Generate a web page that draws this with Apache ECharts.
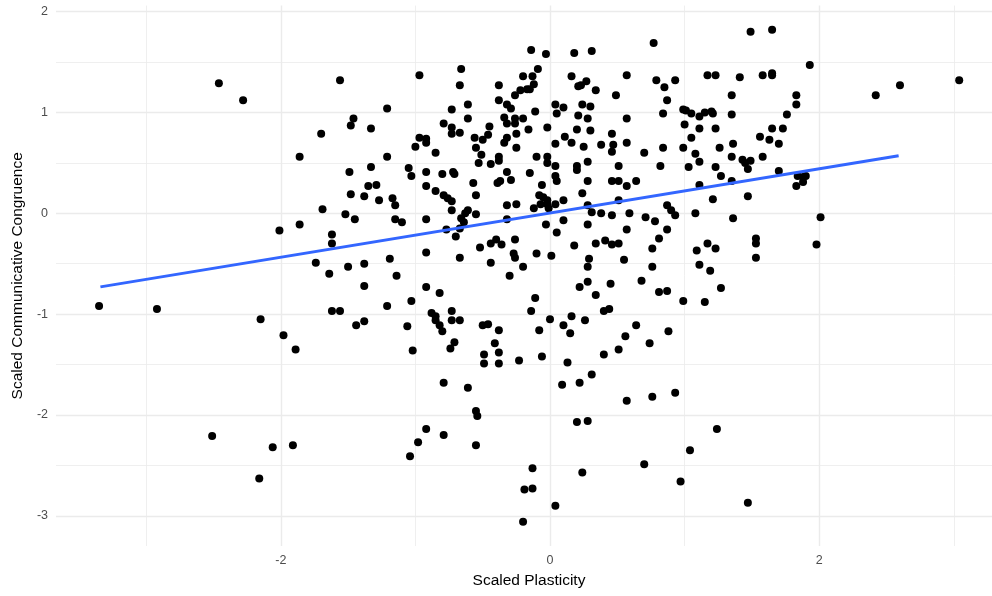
<!DOCTYPE html>
<html>
<head>
<meta charset="utf-8">
<script src="https://cdn.jsdelivr.net/npm/echarts@6/dist/echarts.min.js"></script>
<style>
  html, body { margin: 0; padding: 0; background: #ffffff; }
  #chart { width: 992px; height: 596px; }
</style>
</head>
<body>
<div id="chart"></div>
<script>
// Each participant: [scaled plasticity, scaled communicative congruence]
const observations = [
  [-2.46,1.29],[-2.28,1.12],[-1.86,0.56],[-2.01,-0.17],[-1.86,-0.11],
  [-1.56,1.32],[-0.97,1.37],[-1.21,1.04],[-1.46,0.94],[-1.48,0.87],[-1.70,0.79],[-1.33,0.84],[-0.97,0.75],
  [-1.00,0.66],[-0.92,0.74],[-0.92,0.70],[-1.21,0.56],[-1.49,0.41],[-1.33,0.46],[-1.05,0.45],[-1.03,0.37],
  [-0.92,0.41],[-0.92,0.27],[-1.35,0.27],[-1.29,0.28],[-1.48,0.19],[-1.38,0.17],[-1.27,0.13],[-1.17,0.15],
  [-1.15,0.08],[-1.69,0.04],[-1.52,-0.01],[-1.45,-0.06],[-1.15,-0.06],[-1.10,-0.09],[-0.92,-0.06],
  [-1.62,-0.21],[-1.62,-0.30],[-0.92,-0.39],[-1.74,-0.49],[-1.50,-0.53],[-1.38,-0.50],[-1.19,-0.45],
  [-1.64,-0.60],[-1.38,-0.72],[-1.14,-0.62],[-0.92,-0.73],[-1.62,-0.97],[-1.56,-0.97],[-1.21,-0.92],
  [-1.03,-0.87],[-1.44,-1.11],[-1.38,-1.07],[-1.06,-1.12],[-1.89,-1.35],[-1.02,-1.36],
  [-0.92,-2.14],[-0.98,-2.27],[-1.04,-2.41],[-1.91,-2.30],
  [-3.35,-0.92],[-2.92,-0.95],[-2.15,-1.05],[-1.98,-1.21],[-2.51,-2.21],[-2.06,-2.32],[-2.16,-2.63],
  [-0.14,1.62],[-0.03,1.58],[-0.66,1.43],[-0.09,1.43],[-0.67,1.27],[-0.38,1.27],[-0.20,1.36],[-0.13,1.36],
  [-0.12,1.28],[-0.22,1.22],[-0.17,1.23],[-0.15,1.23],[-0.26,1.17],[-0.38,1.12],[-0.32,1.08],[-0.29,1.04],
  [-0.61,1.08],[-0.73,1.03],[-0.11,1.01],[0.04,1.08],[0.05,0.99],[-0.61,0.94],[-0.34,0.95],[-0.26,0.94],
  [-0.20,0.94],[-0.79,0.89],[-0.73,0.85],[-0.73,0.79],[-0.67,0.80],[-0.45,0.86],[-0.32,0.89],[-0.26,0.89],
  [-0.16,0.83],[-0.02,0.85],[-0.56,0.75],[-0.50,0.73],[-0.46,0.78],[-0.32,0.75],[-0.34,0.70],[-0.25,0.79],
  [-0.25,0.65],[-0.55,0.65],[-0.85,0.60],[-0.51,0.58],[-0.38,0.56],[-0.38,0.52],[-0.53,0.50],[-0.44,0.49],
  [-0.10,0.56],[-0.02,0.56],[-0.02,0.50],[0.04,0.69],[-0.80,0.39],[-0.72,0.41],[-0.71,0.39],[-0.32,0.41],
  [-0.15,0.40],[0.04,0.47],[0.04,0.37],[-0.85,0.22],[-0.57,0.30],[-0.39,0.30],[-0.37,0.32],[-0.29,0.33],
  [-0.06,0.28],[-0.79,0.18],[-0.76,0.15],[-0.73,0.12],[-0.55,0.18],[-0.08,0.18],[-0.05,0.16],[-0.02,0.13],
  [-0.32,0.08],[-0.25,0.09],[-0.12,0.05],[-0.07,0.09],[-0.02,0.09],[-0.01,0.05],[0.04,0.09],[-0.73,0.03],
  [-0.61,0.03],[-0.63,0.00],[-0.55,-0.01],[-0.66,-0.05],[-0.64,-0.09],[-0.32,-0.06],[-0.77,-0.16],
  [-0.67,-0.15],[-0.70,-0.23],[-0.03,-0.11],[0.05,-0.19],[-0.67,-0.44],[-0.52,-0.34],[-0.44,-0.30],
  [-0.40,-0.26],[-0.36,-0.31],[-0.26,-0.26],[-0.44,-0.49],[-0.27,-0.40],[-0.26,-0.44],[-0.20,-0.53],
  [-0.10,-0.40],[0.01,-0.42],
  [-0.82,-0.79],[-0.30,-0.62],[-0.11,-0.84],[-0.14,-0.97],[0.00,-1.05],[-0.88,-0.99],[-0.85,-1.02],
  [-0.85,-1.06],[-0.82,-1.11],[-0.80,-1.17],[-0.73,-0.97],[-0.73,-1.06],[-0.67,-1.06],[-0.50,-1.11],
  [-0.46,-1.10],[-0.38,-1.16],[-0.71,-1.28],[-0.74,-1.34],[-0.41,-1.29],[-0.38,-1.38],[-0.49,-1.40],
  [-0.49,-1.49],[-0.38,-1.49],[-0.23,-1.46],[-0.08,-1.16],[-0.06,-1.42],[-0.79,-1.68],[-0.61,-1.73],
  [-0.55,-1.96],[-0.54,-2.01],[-0.79,-2.20],[-0.55,-2.30],[-0.13,-2.53],[-0.19,-2.74],[-0.13,-2.73],
  [0.04,-2.90],[-0.20,-3.06],
  [0.77,1.69],[0.18,1.59],[0.31,1.61],[0.16,1.36],[0.57,1.37],[0.79,1.32],[0.93,1.32],[0.27,1.31],
  [0.21,1.26],[0.23,1.27],[0.34,1.22],[0.85,1.25],[0.49,1.17],[0.87,1.12],[0.10,1.05],[0.24,1.08],
  [0.30,1.06],[0.99,1.03],[1.01,1.02],[0.21,0.97],[0.28,0.94],[0.57,0.94],[0.84,0.99],[1.00,0.88],
  [0.20,0.83],[0.30,0.82],[0.11,0.76],[0.16,0.70],[0.25,0.66],[0.46,0.79],[0.47,0.68],[0.46,0.61],
  [0.38,0.68],[0.57,0.70],[0.70,0.60],[0.84,0.65],[0.99,0.65],[0.05,0.32],[0.20,0.47],[0.20,0.43],
  [0.28,0.51],[0.51,0.47],[0.82,0.47],[1.03,0.46],[0.28,0.32],[0.46,0.32],[0.51,0.32],[0.57,0.27],
  [0.64,0.32],[0.24,0.20],[0.10,0.13],[0.28,0.08],[0.51,0.13],[0.31,0.01],[0.38,0.00],[0.46,-0.02],
  [0.59,0.00],[0.87,0.08],[0.90,0.03],[0.93,-0.02],[0.10,-0.07],[0.28,-0.11],[0.71,-0.04],[0.78,-0.08],
  [0.57,-0.16],[0.87,-0.16],[0.18,-0.32],[0.34,-0.30],[0.41,-0.27],[0.46,-0.31],[0.51,-0.30],[0.81,-0.25],
  [0.76,-0.35],[0.29,-0.45],[0.28,-0.53],[0.55,-0.46],[0.76,-0.53],
  [0.22,-0.73],[0.28,-0.68],[0.34,-0.81],[0.45,-0.70],[0.68,-0.67],[0.81,-0.78],[0.87,-0.77],[0.99,-0.87],
  [0.40,-0.97],[0.44,-0.95],[0.10,-1.11],[0.16,-1.02],[0.15,-1.19],[0.26,-1.06],[0.64,-1.11],[0.56,-1.22],
  [0.88,-1.17],[0.74,-1.29],[0.51,-1.35],[0.40,-1.40],[0.13,-1.48],[0.09,-1.70],[0.22,-1.68],[0.31,-1.60],
  [0.57,-1.86],[0.76,-1.82],[0.93,-1.78],[0.20,-2.07],[0.28,-2.06],[1.04,-2.35],[0.70,-2.49],[0.24,-2.57],
  [0.97,-2.66],
  [1.49,1.80],[1.65,1.82],[1.93,1.47],[1.17,1.37],[1.23,1.37],[1.41,1.35],[1.58,1.37],[1.65,1.37],
  [1.65,1.39],[1.35,1.17],[1.83,1.17],[1.83,1.08],[1.05,0.99],[1.11,0.96],[1.15,1.00],[1.20,1.01],
  [1.21,0.99],[1.35,0.98],[1.76,0.98],[1.11,0.84],[1.23,0.84],[1.65,0.84],[1.73,0.84],[1.56,0.76],
  [1.63,0.73],[1.70,0.69],[1.05,0.75],[1.26,0.65],[1.36,0.69],[1.08,0.59],[1.11,0.51],[1.23,0.46],
  [1.35,0.56],[1.43,0.53],[1.45,0.50],[1.49,0.52],[1.47,0.44],[1.58,0.56],[1.27,0.37],[1.35,0.32],
  [1.11,0.28],[1.70,0.42],[1.84,0.37],[1.88,0.36],[1.90,0.37],[1.88,0.31],[1.83,0.27],[1.21,0.14],
  [1.47,0.17],[1.08,0.00],[1.36,-0.05],[2.01,-0.04],[1.53,-0.25],[1.53,-0.30],[1.53,-0.44],[1.17,-0.30],
  [1.23,-0.35],[1.09,-0.37],[1.98,-0.31],[1.11,-0.51],[1.19,-0.57],
  [1.27,-0.74],[1.15,-0.88],[1.24,-2.14],[1.47,-2.87],
  [2.42,1.17],[2.60,1.27],[3.04,1.32]
];

// Linear fit, from its two ends
const fitX = [-3.34, 2.59];
const fitY = [-0.73, 0.57];

// Axis ticks and grid lines
const xTickLabels = [-2, 0, 2];
const yTickLabels = [-3, -2, -1, 0, 1, 2];
const xMajorGrid = [-2, 0, 2];
const xMinorGrid = [-3, -1, 1, 3];
const yMajorGrid = [-3, -2, -1, 0, 1, 2];
const yMinorGrid = [-2.5, -1.5, -0.5, 0.5, 1.5];

const FONT = 'Liberation Sans, Arial, Helvetica, sans-serif';
const GRID_COLOR = '#ebebeb';

const chart = echarts.init(document.getElementById('chart'));

const gridLines = [].concat(
  xMinorGrid.map(v => ({ xAxis: v, lineStyle: { width: 0.8 } })),
  yMinorGrid.map(v => ({ yAxis: v, lineStyle: { width: 0.8 } })),
  xMajorGrid.map(v => ({ xAxis: v, lineStyle: { width: 1.4 } })),
  yMajorGrid.map(v => ({ yAxis: v, lineStyle: { width: 1.4 } }))
);

chart.setOption({
  animation: false,
  backgroundColor: '#ffffff',
  grid: {
    left: 56, top: 5.6, width: 946, height: 540.4,
    outerBoundsMode: 'none', containLabel: false
  },
  xAxis: {
    type: 'value', min: -3.67, max: 3.358,
    name: 'Scaled Plasticity', nameLocation: 'middle', nameGap: 27,
    nameTextStyle: { color: '#000000', fontSize: 15.5, fontFamily: FONT },
    axisLine: { show: false }, axisTick: { show: false }, splitLine: { show: false },
    axisLabel: { customValues: xTickLabels, color: '#4d4d4d', fontSize: 12.5, fontFamily: FONT, margin: 8 }
  },
  yAxis: {
    type: 'value', min: -3.30, max: 2.06,
    name: 'Scaled Communicative Congruence', nameLocation: 'middle', nameGap: 28, nameRotate: 90,
    nameTextStyle: { color: '#000000', fontSize: 15.5, fontFamily: FONT },
    axisLine: { show: false }, axisTick: { show: false }, splitLine: { show: false },
    axisLabel: { customValues: yTickLabels, color: '#4d4d4d', fontSize: 12.5, fontFamily: FONT, margin: 8 }
  },
  series: [
    {
      // panel grid lines, kept on the bottom layer
      type: 'scatter', data: [], zlevel: 0, z: 0, silent: true,
      markLine: {
        zlevel: 0, z: 0,
        silent: true, symbol: ['none', 'none'], label: { show: false },
        lineStyle: { color: GRID_COLOR, type: 'solid', opacity: 1 },
        emphasis: { disabled: true },
        data: gridLines
      }
    },
    {
      type: 'scatter', data: observations, zlevel: 1, z: 3,
      symbol: 'circle', symbolSize: 8,
      itemStyle: { color: '#000000', opacity: 1 },
      emphasis: { disabled: true }
    },
    {
      type: 'line', zlevel: 1, z: 4, data: fitX.map((x, i) => [x, fitY[i]]),
      showSymbol: false, symbol: 'none',
      lineStyle: { color: '#3366ff', width: 3 }
    }
  ]
});
</script>
</body>
</html>
